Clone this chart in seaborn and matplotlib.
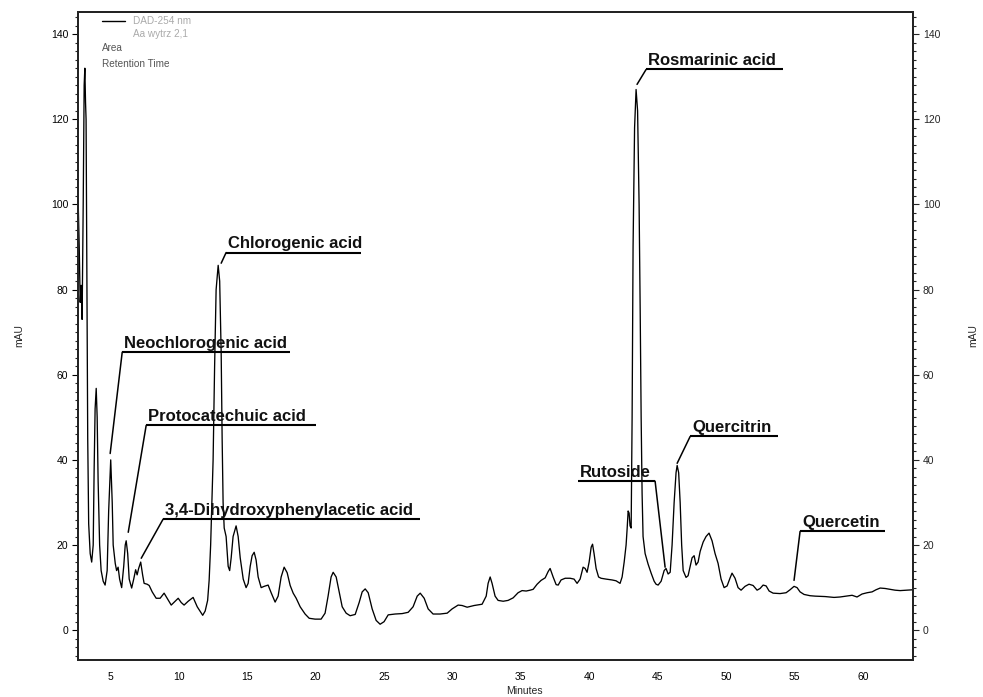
import matplotlib
matplotlib.use("Agg")
import matplotlib.pyplot as plt
from matplotlib.ticker import MultipleLocator
import seaborn as sns
import pandas as pd

# ---- data (retention time in minutes, absorbance in mAU) ----
time_min = [2.66, 2.74, 2.81, 2.88, 2.95, 3.03, 3.10, 3.15, 3.20, 3.24, 3.29, 3.36, 3.43, 3.54, 3.65,
            3.76, 3.83, 3.90, 3.98, 4.05, 4.12, 4.23, 4.34, 4.49, 4.63, 4.78, 4.89, 5.04, 5.15, 5.22,
            5.37, 5.47, 5.58, 5.69, 5.84, 5.99, 6.10, 6.17, 6.28, 6.39, 6.57, 6.72, 6.86, 6.97, 7.08,
            7.23, 7.37, 7.48, 7.70, 7.85, 8.07, 8.36, 8.65, 8.94, 9.16, 9.46, 9.75, 9.97, 10.19, 10.40,
            10.70, 11.06, 11.36, 11.76, 11.94, 12.12, 12.23, 12.34, 12.41, 12.52, 12.63, 12.74, 12.89, 13.00, 13.11,
            13.18, 13.25, 13.33, 13.47, 13.62, 13.73, 13.84, 13.98, 14.20, 14.35, 14.50, 14.72, 14.93, 15.08, 15.23,
            15.37, 15.52, 15.66, 15.81, 16.03, 16.25, 16.54, 16.76, 17.05, 17.27, 17.49, 17.71, 17.93, 18.15, 18.37,
            18.59, 18.88, 19.24, 19.54, 19.97, 20.41, 20.70, 20.92, 21.14, 21.29, 21.51, 21.73, 21.95, 22.24, 22.53,
            22.90, 23.19, 23.41, 23.63, 23.85, 24.14, 24.43, 24.72, 25.01, 25.31, 25.82, 26.33, 26.77, 27.13, 27.43,
            27.65, 27.94, 28.23, 28.59, 29.10, 29.62, 29.98, 30.42, 30.71, 31.08, 31.59, 32.17, 32.47, 32.61, 32.76,
            32.90, 33.12, 33.34, 33.71, 34.07, 34.44, 34.80, 35.09, 35.39, 35.68, 35.90, 36.19, 36.48, 36.78, 37.00,
            37.14, 37.36, 37.58, 37.73, 37.94, 38.24, 38.60, 38.89, 39.11, 39.33, 39.55, 39.70, 39.84, 39.99, 40.14,
            40.24, 40.35, 40.50, 40.68, 40.86, 41.23, 41.67, 41.96, 42.25, 42.40, 42.55, 42.69, 42.77, 42.84, 42.91,
            42.98, 43.06, 43.13, 43.20, 43.31, 43.42, 43.53, 43.64, 43.72, 43.79, 43.86, 43.93, 44.08, 44.30, 44.52,
            44.74, 44.88, 45.03, 45.25, 45.47, 45.61, 45.76, 45.91, 46.05, 46.20, 46.34, 46.42, 46.53, 46.64, 46.75,
            46.86, 47.07, 47.22, 47.37, 47.51, 47.66, 47.80, 47.95, 48.10, 48.32, 48.53, 48.75, 48.97, 49.19, 49.41,
            49.63, 49.85, 50.07, 50.29, 50.43, 50.65, 50.87, 51.09, 51.38, 51.67, 51.97, 52.26, 52.48, 52.70, 52.92,
            53.14, 53.43, 53.94, 54.38, 54.67, 54.96, 55.18, 55.40, 55.69, 56.13, 56.50, 57.23, 57.88, 58.32, 58.76,
            59.20, 59.56, 59.93, 60.30, 60.66, 60.95, 61.25, 61.61, 61.98, 62.34, 62.71, 63.15, 63.66]

absorbance_mau = [101, 90, 77, 81, 73, 100, 128, 132, 124, 120, 90, 45, 25, 18, 16,
                  20, 38, 52, 56.8, 50, 35, 20, 14, 11.5, 10.6, 14, 28, 40, 30, 20,
                  15.7, 14, 14.8, 12, 10, 15, 20, 21, 18, 12, 9.9, 12, 14.2, 13, 14.5,
                  16, 13, 11, 10.8, 10.5, 9, 7.5, 7.5, 8.7, 7.5, 5.9, 6.8, 7.5, 6.5, 5.9,
                  6.8, 7.7, 5.5, 3.5, 4.5, 7, 11.7, 20, 28, 40, 62, 80, 85.7, 82, 65,
                  45, 30, 24, 22, 15, 14, 17, 22, 24.5, 22, 17, 12, 10, 11, 15,
                  17.5, 18.3, 16.5, 12.5, 10, 10.3, 10.6, 8.8, 6.6, 8, 12.5, 14.8, 13.5, 10.5, 8.7,
                  7.5, 5.5, 3.8, 2.8, 2.6, 2.6, 4, 8, 12.5, 13.6, 12.5, 9, 5.5, 4, 3.4,
                  3.7, 6.5, 9, 9.7, 8.8, 5, 2.3, 1.4, 2, 3.6, 3.8, 3.9, 4.2, 5.5, 8,
                  8.7, 7.5, 5, 3.8, 3.8, 4, 5, 5.9, 5.8, 5.4, 5.8, 6.1, 8, 11, 12.5,
                  11, 8, 7, 6.8, 7, 7.6, 8.8, 9.3, 9.2, 9.4, 9.6, 10.8, 11.7, 12.3, 13.8,
                  14.5, 12.5, 10.7, 10.6, 11.8, 12.2, 12.2, 12, 11, 12, 14.8, 14.5, 13.6, 16, 19.5,
                  20.2, 18, 14.5, 12.5, 12.2, 12.0, 11.8, 11.6, 11, 12.5, 16, 20, 24, 28, 27.5,
                  24.5, 24, 50, 90, 118, 127, 122, 100, 75, 50, 32, 22, 18, 15.5, 13.4,
                  11.5, 10.8, 10.6, 11.5, 14, 14.5, 13.2, 13.6, 20, 30, 37, 38.7, 37, 30, 20,
                  14, 12.4, 12.8, 15, 17, 17.5, 15.3, 16, 18.5, 20.7, 22, 22.8, 21, 18, 15.7,
                  12, 10, 10.4, 12.3, 13.4, 12.2, 10, 9.4, 10.3, 10.8, 10.5, 9.4, 9.8, 10.6, 10.4,
                  9.2, 8.7, 8.6, 8.8, 9.5, 10.3, 10, 9, 8.4, 8.1, 8.0, 7.9, 7.7, 7.8, 8.0,
                  8.2, 7.8, 8.5, 8.8, 9.0, 9.5, 9.9, 9.8, 9.6, 9.4, 9.3, 9.4, 9.5]

# ---- peak labels ----
compound_names = ["Neochlorogenic acid", "Protocatechuic acid", "3,4-Dihydroxyphenylacetic acid",
                  "Chlorogenic acid", "Rosmarinic acid", "Rutoside", "Quercitrin", "Quercetin"]
peak_time = [5.00, 6.32, 7.27, 13.11, 43.49, 45.54, 46.42, 54.96]
peak_mau = [41.5, 23.0, 16.9, 86.2, 128.2, 14.8, 39.2, 11.7]
label_time = [5.88, 7.63, 8.87, 13.47, 44.15, 39.19, 47.37, 55.40]
label_mau = [65.3, 48.1, 26.1, 88.7, 131.7, 35.0, 45.5, 23.2]
label_len = [12.27, 12.42, 18.77, 9.86, 10.0, 5.62, 6.43, 6.21]
leader_from_right = [False, False, False, False, False, True, False, False]

x_ticks = [5, 10, 15, 20, 25, 30, 35, 40, 45, 50, 55, 60]
y_ticks = [0, 20, 40, 60, 80, 100, 120, 140]

sns.set_style("white")
plt.rcParams["font.family"] = ["Liberation Sans", "DejaVu Sans"]

W, H = 983, 697
fig = plt.figure(figsize=(W / 100, H / 100), dpi=100)
ax = fig.add_axes([78 / W, 1 - 660 / H, (913 - 78) / W, (660 - 12) / H])

df = pd.DataFrame({"Minutes": time_min, "mAU": absorbance_mau})
sns.lineplot(data=df, x="Minutes", y="mAU", color="black", linewidth=0.95,
             sort=False, estimator=None, ax=ax)

ax.set_xlim(2.65, 63.65)
ax.set_ylim(-7.0, 145.2)
ax.set_xticks(x_ticks)
ax.set_yticks(y_ticks)
ax.xaxis.set_minor_locator(MultipleLocator(1))
ax.yaxis.set_minor_locator(MultipleLocator(2))
for s in ax.spines.values():
    s.set_color("black")
    s.set_linewidth(1.3)
ax.tick_params(axis="both", which="major", direction="out", length=4, width=0.8,
               labelsize=7.5, pad=3, colors="black")
ax.tick_params(axis="both", which="minor", direction="out", length=2.5, width=0.8)
ax.tick_params(axis="x", which="both", length=2.5, pad=6)
ax.set_xlabel("Minutes", fontsize=7.5, labelpad=3)
ax.xaxis.set_label_coords(0.535, -0.04)
ax.set_ylabel("mAU", fontsize=7.5, labelpad=19)

ax2 = ax.twinx()
ax2.set_ylim(ax.get_ylim())
ax2.set_yticks(y_ticks)
ax2.yaxis.set_minor_locator(MultipleLocator(2))
ax2.tick_params(axis="y", which="major", direction="out", length=4, width=0.8,
                labelsize=7.5, pad=3)
ax2.tick_params(axis="y", which="minor", direction="out", length=2.5, width=0.8)
ax2.set_ylabel("mAU", fontsize=7.5, labelpad=20)
for s in ax2.spines.values():
    s.set_linewidth(1.3)

# ---- annotations ----
for name, pt, pm, lt, lm, ln, right in zip(compound_names, peak_time, peak_mau, label_time,
                                           label_mau, label_len, leader_from_right):
    start = lt + ln if right else lt
    ax.annotate("", xy=(pt, pm), xytext=(start, lm),
                arrowprops=dict(arrowstyle="-", color="black", lw=1.1, shrinkA=0, shrinkB=0))
    ax.plot([lt, lt + ln], [lm, lm], color="black", lw=1.5, solid_capstyle="butt")
    ax.annotate(name, xy=(lt, lm), xytext=(1.5, 3.0), textcoords="offset points",
                fontsize=12, fontweight="bold", ha="left", va="baseline", color="#111111")

# ---- small legend block (top-left) ----
fig.lines.append(plt.Line2D([102 / W, 125 / W], [1 - 21 / H, 1 - 21 / H],
                            transform=fig.transFigure, color="black", lw=1.0))
fig.text(133 / W, 1 - 21 / H, "DAD-254 nm", fontsize=7.2, color="#aaaaaa", va="center", ha="left")
fig.text(133 / W, 1 - 34 / H, "Aa wytrz 2,1", fontsize=7.2, color="#aaaaaa", va="center", ha="left")
fig.text(102 / W, 1 - 48 / H, "Area", fontsize=7.2, color="#555555", va="center", ha="left")
fig.text(102 / W, 1 - 64 / H, "Retention Time", fontsize=7.2, color="#555555", va="center", ha="left")

fig.savefig("out.png", dpi=100)
